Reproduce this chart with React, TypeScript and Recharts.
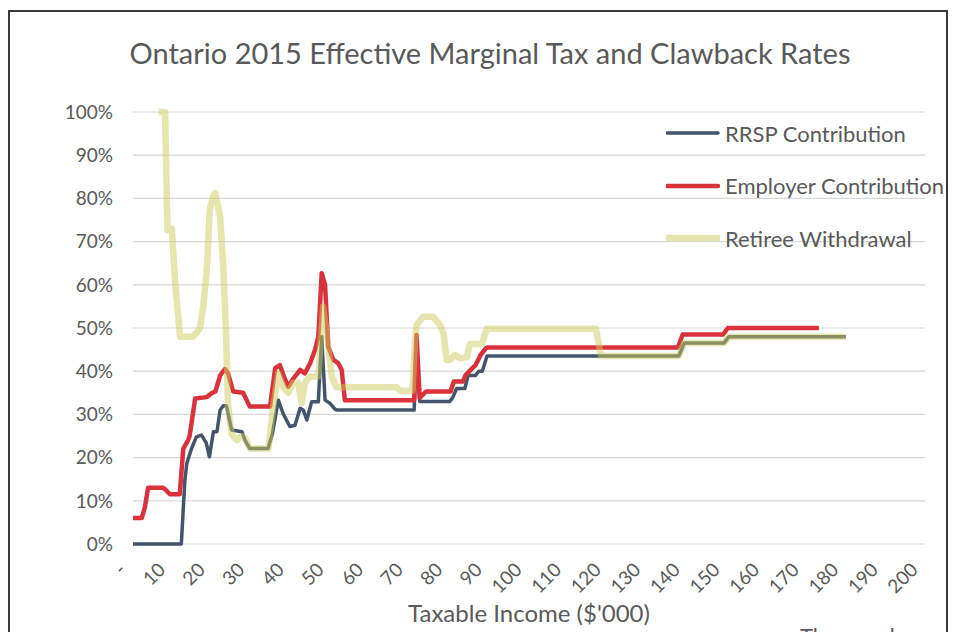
import { LineChart, Line, XAxis, YAxis, CartesianGrid, Legend } from "recharts";

// income in $'000, effective marginal rate in %
const incomeTicks = [0, 10, 20, 30, 40, 50, 60, 70, 80, 90, 100, 110, 120, 130, 140, 150, 160, 170, 180, 190, 200];
const rateTicks = [0, 10, 20, 30, 40, 50, 60, 70, 80, 90, 100];
const seriesNames = ["RRSP Contribution", "Employer Contribution", "Retiree Withdrawal"];

const rrspPoints: [number, number][] = [
  [0, 0], [12.2, 0], [13.1, 14.8], [13.6, 18.7], [14.4, 21], [14.8, 22.1], [16, 24.8], [17.3, 25.2],
  [18.5, 23.4], [19.3, 20.2], [20.3, 26], [21.2, 26], [22, 31], [22.8, 32], [23.6, 32], [24.9, 26.4],
  [27.5, 26], [28.3, 24], [29.5, 22.1], [34.1, 22.1], [35.2, 25.5], [36.7, 33.3], [37.9, 30.2],
  [39.6, 27.2], [40.9, 27.5], [42.2, 31.4], [43, 31], [43.9, 28.7], [45.1, 32.9], [46.8, 32.9],
  [47.65, 48], [48.5, 33.3], [49.7, 32.6], [51, 31.2], [51.5, 31], [71, 31], [71.6, 46], [72.4, 33],
  [80, 33], [80.8, 34], [81.7, 36], [83.8, 36], [84.6, 39], [86.5, 39], [87.3, 40], [88.2, 40],
  [89.4, 43.5], [137.8, 43.5], [139.2, 46.5], [149.2, 46.5], [150.5, 48], [180, 48],
];

const employerPoints: [number, number][] = [
  [0, 6], [2.2, 6], [3, 8.5], [3.8, 13], [7.6, 13], [8.3, 12.5], [9.3, 11.5], [11.8, 11.5],
  [12.7, 22.1], [13.9, 24], [14.3, 25], [15.7, 33.7], [18.6, 34], [20, 35], [20.8, 35.3], [22, 39],
  [23.2, 40.5], [24, 39.5], [25.3, 35.3], [27.8, 35], [29.5, 31.8], [34.6, 31.8], [35.9, 40.7],
  [37.1, 41.4], [37.95, 39.1], [39.2, 36.4], [40.5, 38.3], [42.2, 40.3], [43.4, 39.5], [44.7, 41.8],
  [45.96, 44.9], [46.8, 48], [47.65, 62.7], [48.5, 60], [49.3, 45.7], [50.6, 42.6], [51.8, 41.9],
  [52.7, 40.3], [53.5, 33.3], [71, 33.3], [71.6, 48.4], [72.4, 33.8], [74, 35.3], [80.2, 35.3],
  [81, 37.6], [83.3, 37.6], [84, 39.1], [85.7, 40.7], [86.5, 41.4], [87.8, 43.8], [89, 45.2],
  [89.5, 45.5], [137.6, 45.5], [138.8, 48.5], [149, 48.5], [150.2, 50], [173.2, 50],
];

const retireePoints: [number, number][] = [
  [6.5, 100], [8.1, 100], [8.7, 72.7], [9.8, 73], [10.6, 61], [11.9, 48], [15.2, 48], [16.9, 49.9],
  [17.75, 55], [18.6, 63], [19.4, 77.3], [20.2, 80.5], [20.7, 81.2], [21.3, 79], [22, 75.8],
  [22.8, 64.2], [23.5, 49], [24, 32], [24.9, 25.5], [26.2, 24], [27.4, 25], [28.3, 24.5],
  [29.5, 22.1], [34.2, 22.1], [35.4, 31.8], [36.7, 39.5], [37.95, 36.4], [39.2, 35], [40.5, 37.3],
  [41.7, 37.3], [42.6, 32.6], [43.4, 37.3], [44.7, 38.8], [46.8, 38.8], [48, 55], [49.3, 45.7],
  [50.2, 38.7], [51.4, 36.3], [66.6, 36.3], [67.4, 35.5], [70.6, 35.5], [71.2, 47], [71.6, 50.7],
  [73.3, 52.6], [75.8, 52.6], [77.5, 50.7], [78.4, 48.8], [79.2, 42.6], [80, 42.6], [81.3, 43.75],
  [82.6, 43], [84.3, 43.2], [85.1, 46.3], [88.1, 46.3], [89.3, 49.8], [116.9, 49.8], [118.2, 43.5],
  [137.8, 43.5], [139.2, 46.5], [149.2, 46.5], [150.5, 48], [180, 48],
];

const toRows = (pts: [number, number][]) => pts.map(([income, rate]) => ({ income, rate }));

const FONT = "Lato, 'Noto Sans', sans-serif";
const GREY = "#595959";

const XTick = (props: any) => {
  const { x, y, payload } = props;
  const label = payload.value === 0 ? "-" : String(payload.value);
  const ax = x - 6;
  const ay = y + 19;
  return (
    <text
      x={ax}
      y={ay}
      transform={`rotate(-45, ${ax}, ${ay})`}
      textAnchor="end"
      fill={GREY}
      fontSize={19}
      fontFamily={FONT}
    >
      {label}
    </text>
  );
};

const renderLegend = (props: any) => {
  const items = [...props.payload].sort(
    (a: any, b: any) => seriesNames.indexOf(a.value) - seriesNames.indexOf(b.value)
  );
  return (
    <div style={{ fontFamily: FONT }}>
      {items.map((entry: any) => (
        <div key={entry.value} style={{ display: "flex", alignItems: "center", height: 52.5 }}>
          <svg width={54} height={10}>
            <line
              x1={1}
              y1={5}
              x2={52}
              y2={5}
              stroke={entry.payload.legendColor}
              strokeWidth={entry.payload.strokeWidth}
              strokeLinecap="round"
            />
          </svg>
          <span style={{ color: GREY, fontSize: 22, marginLeft: 5, whiteSpace: "nowrap" }}>{entry.value}</span>
        </div>
      ))}
    </div>
  );
};

export default function App() {
  return (
    <div style={{ position: "absolute", left: 0, top: 0, width: 958, height: 632, overflow: "hidden", background: "#fff" }}>
      <div
        style={{
          position: "absolute",
          left: 8,
          top: 10,
          width: 940,
          height: 700,
          border: "2px solid #3a3a3a",
          boxSizing: "border-box",
        }}
      />
      <div
        style={{
          position: "absolute",
          left: 490,
          top: 35,
          transform: "translateX(-50%)",
          whiteSpace: "nowrap",
          fontFamily: FONT,
          fontSize: 29,
          color: GREY,
        }}
      >
        Ontario 2015 Effective Marginal Tax and Clawback Rates
      </div>
      <div style={{ position: "absolute", left: 0, top: 0 }}>
        <LineChart width={958} height={632} margin={{ top: 112, right: 33, bottom: 10, left: 63 }}>
          <CartesianGrid vertical={false} stroke="#D9D9D9" strokeWidth={1.2} />
          <XAxis
            type="number"
            dataKey="income"
            domain={[0, 200]}
            ticks={incomeTicks}
            interval={0}
            axisLine={false}
            tickLine={false}
            height={78}
            tick={<XTick />}
            label={{
              value: "Taxable Income ($'000)",
              position: "insideBottom",
              offset: 0,
              fill: GREY,
              fontSize: 24,
              fontFamily: FONT,
            }}
          />
          <YAxis
            type="number"
            domain={[0, 100]}
            ticks={rateTicks}
            interval={0}
            width={70}
            axisLine={false}
            tickLine={false}
            tickSize={6}
            tickMargin={14}
            tickFormatter={(v: number) => `${v}%`}
            tick={{ fill: GREY, fontSize: 19, fontFamily: FONT }}
          />
          <Legend
            layout="vertical"
            align="center"
            verticalAlign="middle"
            wrapperStyle={{ left: 666, top: 107, width: 292 }}
            content={renderLegend}
          />
          <Line
            data={toRows(rrspPoints)}
            dataKey="rate"
            name="RRSP Contribution"
            stroke="#44546A"
            strokeWidth={3.5}
            strokeLinejoin="round"
            dot={false}
            isAnimationActive={false}
            legendColor="#44546A"
          />
          <Line
            data={toRows(employerPoints)}
            dataKey="rate"
            name="Employer Contribution"
            stroke="#D9323B"
            strokeWidth={4.5}
            strokeLinejoin="round"
            dot={false}
            isAnimationActive={false}
            legendColor="#D9323B"
          />
          <Line
            data={toRows(retireePoints)}
            dataKey="rate"
            name="Retiree Withdrawal"
            stroke="#CBCB5C"
            strokeOpacity={0.5}
            strokeWidth={6.5}
            strokeLinejoin="round"
            dot={false}
            isAnimationActive={false}
            legendColor="#E4E5AD"
          />
        </LineChart>
      </div>
      <div
        style={{
          position: "absolute",
          left: 800,
          top: 622,
          fontFamily: FONT,
          fontSize: 22,
          color: GREY,
          whiteSpace: "nowrap",
        }}
      >
        Thousands
      </div>
    </div>
  );
}
